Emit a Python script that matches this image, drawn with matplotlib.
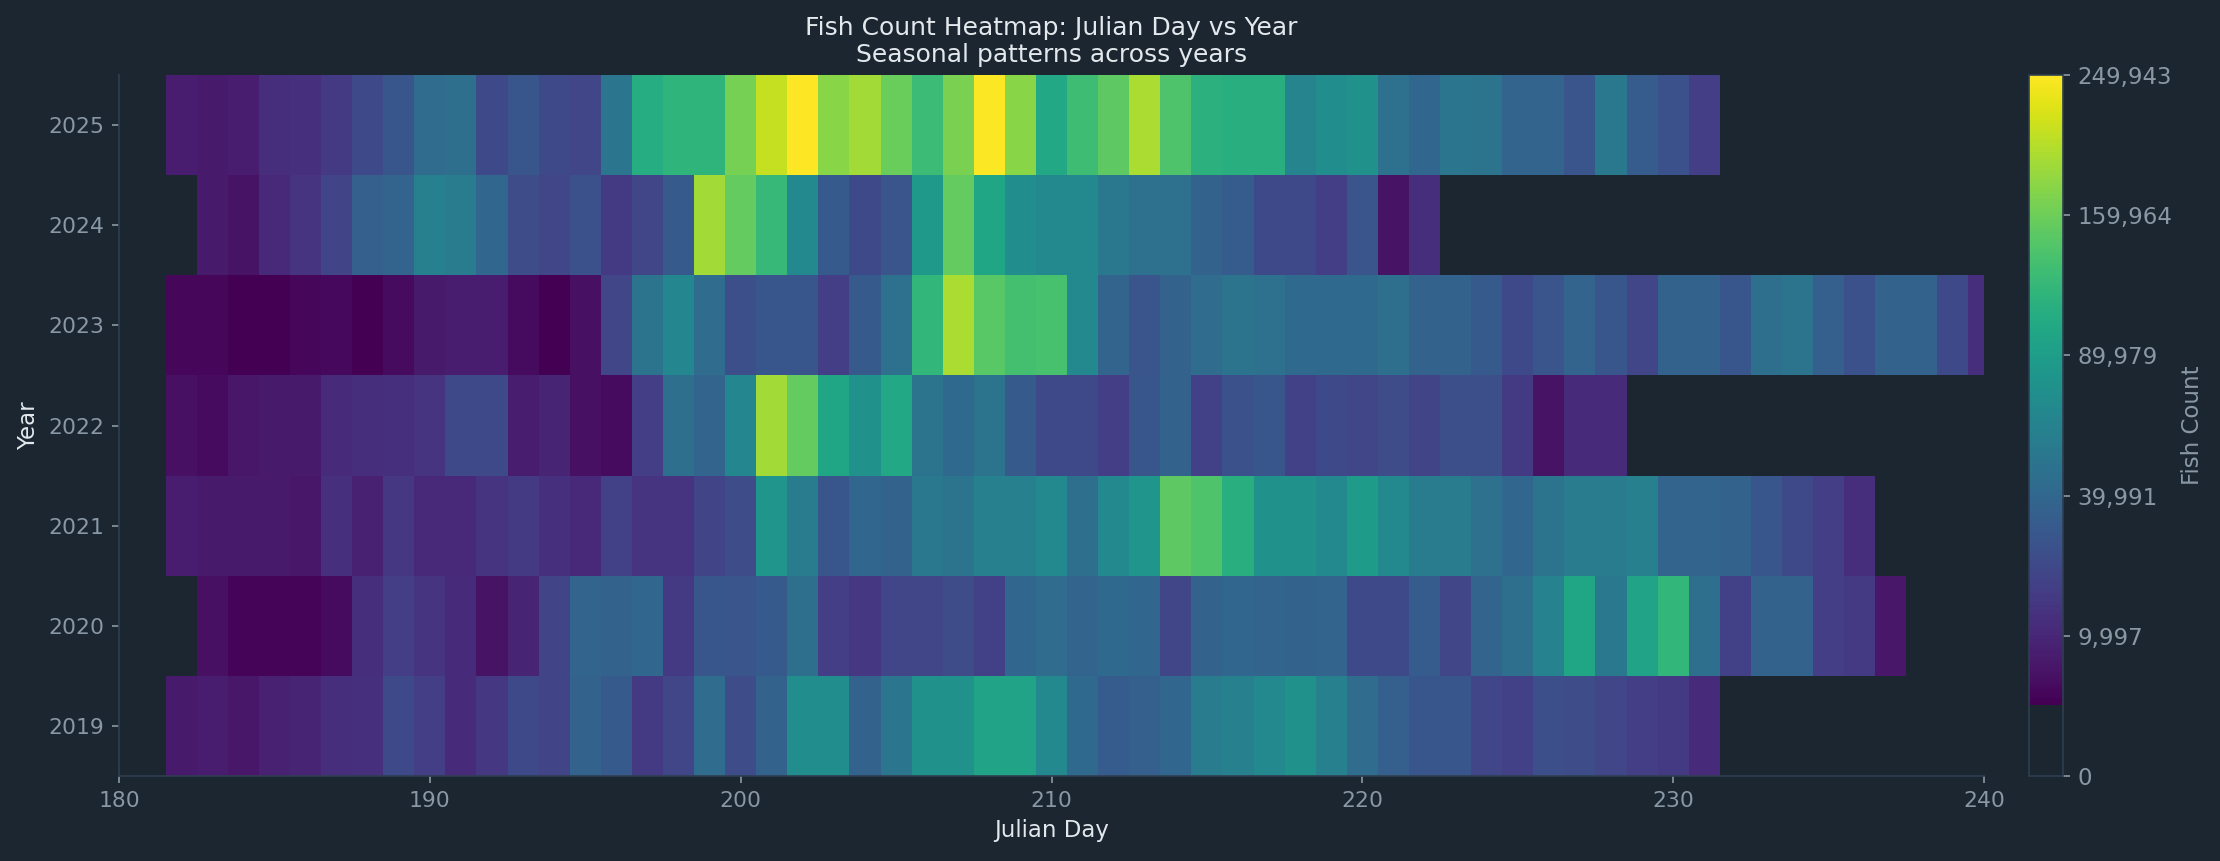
import numpy as np
import matplotlib
matplotlib.use('Agg')
import matplotlib.pyplot as plt
from matplotlib.colors import PowerNorm, ListedColormap

# daily fish counts per year, each list starts at the given julian day
years = [2019, 2020, 2021, 2022, 2023, 2024, 2025]
start_day = {2019: 182, 2020: 183, 2021: 182, 2022: 182, 2023: 182, 2024: 183, 2025: 182}

counts_2019 = [6870, 7640, 6145, 8435, 9310, 12050, 13060, 22540, 17485, 11085,
               15190, 22540, 19930, 36300, 31360, 16320, 21220, 43480, 23910, 36300,
               73560, 73560, 36300, 51240, 76080, 76080, 97100, 97100, 68780, 41610,
               32950, 34620, 39790, 55400, 59690, 68780, 76080, 59690, 43480, 34620,
               29790, 29790, 21220, 18685, 25320, 23910, 21220, 17485, 16320, 11085]
counts_2020 = [4820, 3135, 3135, 3135, 4225, 12050, 17485, 14150, 11085, 5470,
               9310, 19930, 38020, 36300, 39790, 16320, 29790, 28250, 31360, 45340,
               17485, 15190, 21220, 21220, 23910, 18685, 39790, 43480, 38020, 41610,
               39790, 21220, 36300, 39790, 38020, 36300, 38020, 22540, 22540, 32950,
               21220, 38020, 45340, 61910, 99900, 53370, 97100, 120730, 45340, 18685,
               36300, 36300, 17485, 16320, 6145]
counts_2021 = [7640, 6870, 6870, 6870, 6145, 13060, 8435, 15190, 10170, 10170,
               14150, 16320, 13060, 10170, 18685, 14150, 14150, 19930, 23910, 81050,
               55400, 29790, 39790, 36300, 53370, 49240, 59690, 59690, 68780, 45340,
               68780, 81050, 150290, 140160, 111570, 76080, 76080, 68780, 88930, 68780,
               55400, 55400, 47270, 39790, 49240, 55400, 55400, 59690, 38020, 38020,
               36300, 29790, 22540, 17485, 12050]
counts_2022 = [4820, 4225, 6145, 6870, 6870, 11085, 12050, 13060, 14150, 22540,
               22540, 7640, 9310, 4820, 4225, 17485, 45340, 38020, 66440, 191100,
               153900, 99900, 76080, 102780, 49240, 41610, 49240, 31360, 22540, 22540,
               17485, 29790, 36300, 18685, 26770, 29790, 18685, 22540, 21220, 23910,
               19930, 25320, 25320, 16320, 5470, 11085, 11085]
counts_2023 = [3660, 3660, 2650, 2700, 3660, 3700, 2800, 4225, 6870, 7640,
               7640, 4225, 2680, 4820, 21220, 49240, 66440, 43480, 25320, 29790,
               29790, 17485, 31360, 47270, 120730, 195050, 146960, 133460, 136830, 68780,
               38020, 28250, 36300, 43480, 49240, 47270, 41610, 41610, 41610, 45340,
               36300, 36300, 31360, 22540, 28250, 38020, 29790, 21220, 36300, 36300,
               29790, 45340, 49240, 34620, 26770, 36300, 36300, 22540, 12050]
counts_2024 = [6870, 5470, 10170, 14150, 19930, 34620, 38020, 59690, 55400, 39790,
               23910, 21220, 26770, 16320, 21220, 31360, 191100, 153900, 123870, 68780,
               31360, 22540, 28250, 86240, 153900, 99900, 73560, 68780, 68780, 53370,
               47270, 47270, 36300, 32950, 22540, 22540, 17485, 28250, 5470, 12050]
counts_2025 = [7640, 6870, 7640, 12050, 13060, 16320, 22540, 29790, 43480, 45340,
               22540, 29790, 22540, 21220, 51240, 108580, 117620, 117620, 164640, 211230,
               249943, 175740, 191100, 157460, 127050, 168120, 246800, 175740, 102780, 130260,
               150290, 195050, 140160, 114590, 111570, 111570, 64240, 73560, 76080, 47270,
               39790, 51240, 49240, 38020, 38020, 28250, 53370, 32950, 26770, 17485]

cbar_ticks = [0, 9997, 39991, 89979, 159964, 249943]

series = {2019: counts_2019, 2020: counts_2020, 2021: counts_2021, 2022: counts_2022,
          2023: counts_2023, 2024: counts_2024, 2025: counts_2025}

bg = '#1b2631'
text_light = '#e3e8ec'
text_dim = '#8a98a6'
spine_c = '#2f3f50'

days = np.arange(182, 241)
grid = np.full((len(years), len(days)), np.nan)
for i, yr in enumerate(years):
    vals = series[yr]
    j0 = start_day[yr] - days[0]
    grid[i, j0:j0 + len(vals)] = vals
grid = np.ma.masked_invalid(grid)

vmax = grid.max()
vmin = grid.min()
# viridis starts at the smallest count, below that the colorbar stays empty
n = 512
t_min = np.sqrt(vmin / vmax)
t = np.linspace(0, 1, n)
cols = np.array([matplotlib.colors.to_rgba(bg)] * n)
above = t >= t_min - 1.0 / n
cols[above] = plt.cm.viridis(np.clip((t[above] - t_min) / (1 - t_min), 0, 1))
cmap = ListedColormap(cols)
cmap.set_bad(bg)
norm = PowerNorm(gamma=0.5, vmin=0, vmax=vmax)

fig = plt.figure(figsize=(14.8, 5.74), dpi=150, facecolor=bg)
ax = fig.add_axes([0.0536, 0.0987, 0.8401, 0.8142])
cax = fig.add_axes([0.914, 0.0987, 0.0153, 0.8142])
ax.set_facecolor(bg)

x_edges = np.append(days - 0.5, days[-1] + 0.5)
y_edges = np.append(np.array(years) - 0.5, years[-1] + 0.5)
mesh = ax.pcolormesh(x_edges, y_edges, grid, cmap=cmap, norm=norm)

ax.set_xlim(180, 240)
ax.set_ylim(2018.5, 2025.5)
ax.set_xticks(range(180, 241, 10))
ax.set_yticks(years)
ax.tick_params(colors=text_dim, labelsize=10.5, length=3.5)
for s in ['top', 'right']:
    ax.spines[s].set_visible(False)
for s in ['left', 'bottom']:
    ax.spines[s].set_color(spine_c)

ax.set_xlabel('Julian Day', color=text_light, fontsize=11)
ax.set_ylabel('Year', color=text_light, fontsize=11)
ax.set_title('Fish Count Heatmap: Julian Day vs Year\nSeasonal patterns across years',
             color=text_light, fontsize=12)

cbar = fig.colorbar(mesh, cax=cax)
cbar.set_ticks(cbar_ticks)
cbar.set_ticklabels([f'{v:,}' for v in cbar_ticks])
cbar.ax.tick_params(colors=text_dim, labelsize=11, length=3.5)
cbar.outline.set_edgecolor(spine_c)
cbar.ax.set_facecolor(bg)
cbar.set_label('Fish Count', color=text_dim, fontsize=11)

fig.savefig('out.png', dpi=150, facecolor=bg)
